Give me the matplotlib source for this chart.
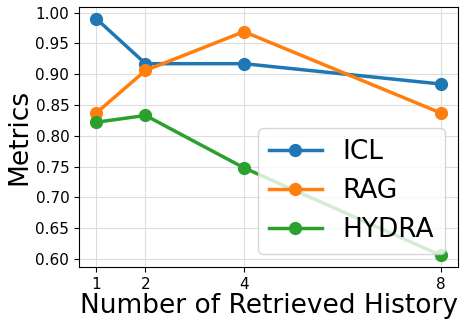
import matplotlib
matplotlib.use("Agg")
import matplotlib.pyplot as plt
import numpy as np

k = [1, 2, 4, 8]
icl = [0.990, 0.917, 0.917, 0.884]
rag = [0.837, 0.906, 0.969, 0.837]
hydra = [0.822, 0.833, 0.748, 0.606]
yticks = np.arange(0.60, 1.001, 0.05)

fig, ax = plt.subplots(figsize=(4.65, 3.27), dpi=100)
ax.plot(k, icl, marker='o', lw=2.5, ms=8.5, label='ICL')
ax.plot(k, rag, marker='o', lw=2.5, ms=8.5, label='RAG')
ax.plot(k, hydra, marker='o', lw=2.5, ms=8.5, label='HYDRA')
ax.set_xticks(k)
ax.set_yticks(yticks)
ax.set_yticklabels(['%.2f' % v for v in yticks])
ax.tick_params(labelsize=11)
ax.grid(True, color='#dddddd')
ax.set_xlabel('Number of Retrieved History', fontsize=19, labelpad=1)
ax.set_ylabel('Metrics', fontsize=19, labelpad=2)
ax.legend(loc='lower right', fontsize=19)
plt.subplots_adjust(left=0.17, right=0.985, top=0.979, bottom=0.183)
plt.savefig('out.png', dpi=100)
